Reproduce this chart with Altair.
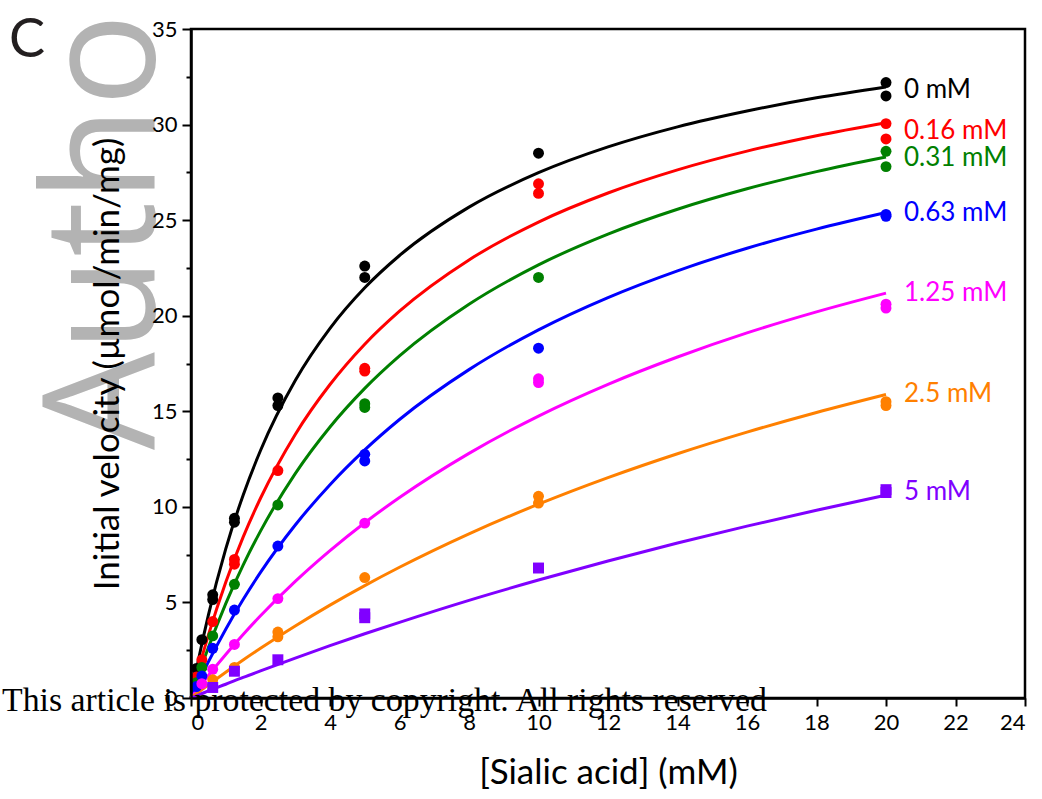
import altair as alt
import pandas as pd

# ---------------- data ----------------
series = ["0 mM", "0.16 mM", "0.31 mM", "0.63 mM", "1.25 mM", "2.5 mM", "5 mM"]
colors = ["#000000", "#ff0000", "#008000", "#0000ff", "#ff00ff", "#ff8000", "#8000ff"]
shapes = ["circle", "circle", "circle", "circle", "circle", "circle", "square"]

# fitted curves
fit_x = [0, 0.25, 0.5, 1, 1.5, 2, 3, 4, 5, 6, 8, 10, 12, 14, 16, 18, 20]
fit_0 = [0, 2.30, 4.34, 7.80, 10.61, 12.95, 16.61, 19.34, 21.46, 23.15, 25.68, 27.48, 28.83, 29.88, 30.71, 31.40, 31.97]
fit_016 = [0, 1.72, 3.29, 6.06, 8.42, 10.45, 13.79, 16.40, 18.51, 20.24, 22.92, 24.90, 26.42, 27.63, 28.61, 29.42, 30.10]
fit_031 = [0, 1.37, 2.64, 4.94, 6.95, 8.73, 11.74, 14.18, 16.20, 17.90, 20.60, 22.66, 24.27, 25.57, 26.64, 27.54, 28.30]
fit_063 = [0, 0.97, 1.89, 3.60, 5.15, 6.57, 9.05, 11.16, 12.98, 14.57, 17.18, 19.26, 20.95, 22.35, 23.53, 24.53, 25.40]
fit_125 = [0, 0.60, 1.18, 2.28, 3.32, 4.30, 6.10, 7.71, 9.17, 10.49, 12.80, 14.75, 16.41, 17.84, 19.10, 20.20, 21.18]
fit_25 = [0, 0.35, 0.69, 1.35, 1.99, 2.60, 3.77, 4.86, 5.88, 6.84, 8.59, 10.14, 11.53, 12.78, 13.91, 14.94, 15.88]
fit_5 = [0, 0.18, 0.37, 0.72, 1.08, 1.42, 2.09, 2.74, 3.36, 3.96, 5.11, 6.17, 7.17, 8.11, 8.99, 9.82, 10.61]
fits = [fit_0, fit_016, fit_031, fit_063, fit_125, fit_25, fit_5]

# measured points
px_0 = [0.156, 0.3125, 0.625, 0.625, 1.25, 1.25, 2.5, 2.5, 5, 5, 10, 20, 20]
py_0 = [1.55, 3.05, 5.4, 5.15, 9.4, 9.2, 15.7, 15.3, 22.6, 22.0, 28.5, 32.2, 31.5]
px_016 = [0.156, 0.3125, 0.625, 1.25, 1.25, 2.5, 5, 5, 10, 10, 20, 20]
py_016 = [1.1, 2.0, 4.0, 7.25, 7.0, 11.9, 17.25, 17.1, 26.9, 26.4, 30.05, 29.25]
px_031 = [0.156, 0.3125, 0.625, 1.25, 2.5, 5, 5, 10, 20, 20]
py_031 = [0.8, 1.6, 3.25, 5.95, 10.1, 15.4, 15.2, 22.0, 28.6, 27.8]
px_063 = [0.156, 0.3125, 0.625, 1.25, 2.5, 5, 5, 10, 20, 20]
py_063 = [0.6, 1.15, 2.6, 4.6, 7.95, 12.75, 12.4, 18.3, 25.3, 25.2]
px_125 = [0.3125, 0.625, 1.25, 2.5, 5, 10, 10, 20, 20]
py_125 = [0.75, 1.5, 2.8, 5.2, 9.15, 16.7, 16.5, 20.6, 20.4]
px_25 = [0.625, 1.25, 2.5, 2.5, 5, 10, 10, 20, 20]
py_25 = [0.95, 1.6, 3.45, 3.2, 6.3, 10.55, 10.2, 15.5, 15.3]
px_5 = [0.625, 1.25, 2.5, 5, 5, 10, 20, 20]
py_5 = [0.55, 1.4, 2.0, 4.4, 4.2, 6.8, 10.9, 10.75]
pxs = [px_0, px_016, px_031, px_063, px_125, px_25, px_5]
pys = [py_0, py_016, py_031, py_063, py_125, py_25, py_5]

x_ticks = list(range(0, 25))
y_ticks = [i * 2.5 for i in range(15)]

# ---------------- tables ----------------
fit_rows = []
for s, f in zip(series, fits):
    for xv, yv in zip(fit_x, f):
        fit_rows.append({"series": s, "x": xv, "y": yv})
fit_df = pd.DataFrame(fit_rows)

pt_rows = []
for s, xs, ys in zip(series, pxs, pys):
    for xv, yv in zip(xs, ys):
        pt_rows.append({"series": s, "x": xv, "y": yv})
pt_df = pd.DataFrame(pt_rows)

label_df = pd.DataFrame({"series": series, "x": [fit_x[-1]] * len(series),
                         "y": [f[-1] for f in fits]})

FONT = "Lato"
xscale = alt.Scale(domain=[0, 24], nice=False, zero=False)
yscale = alt.Scale(domain=[0, 35], nice=False, zero=False)
cscale = alt.Scale(domain=series, range=colors)
sscale = alt.Scale(domain=series, range=shapes)

x_axis = alt.Axis(
    values=x_ticks,
    labelExpr="datum.value % 2 === 0 ? datum.label : ''",
    tickSize={"condition": {"test": "datum.value % 2 === 0", "value": 8}, "value": 5},
    title="[Sialic acid] (mM)",
    titlePadding=22,
    labelPadding=6,
    grid=False,
    zindex=1,
)
y_axis = alt.Axis(
    values=y_ticks,
    labelExpr="datum.value % 5 === 0 ? datum.label : ''",
    tickSize={"condition": {"test": "datum.value % 5 === 0", "value": 9}, "value": 5},
    title="Initial velocity (µmol/min/mg)",
    titlePadding=26,
    labelPadding=5,
    grid=False,
    zindex=1,
)

base_x = alt.X("x:Q", scale=xscale, axis=x_axis)
base_y = alt.Y("y:Q", scale=yscale, axis=y_axis)

# watermark behind everything
wm = alt.Chart(pd.DataFrame({"t": ["Autho"]})).mark_text(
    font="Open Sans", fontSize=155, color="#b3b3b3", angle=270,
    align="left", baseline="alphabetic"
).encode(x=alt.value(-37), y=alt.value(421), text="t:N")

lines = alt.Chart(fit_df).mark_line(strokeWidth=3, interpolate="monotone").encode(
    x=base_x, y=base_y,
    color=alt.Color("series:N", scale=cscale, legend=None),
    detail="series:N",
)

points = alt.Chart(pt_df).mark_point(filled=True, size=120, opacity=1).encode(
    x="x:Q", y="y:Q",
    color=alt.Color("series:N", scale=cscale, legend=None),
    shape=alt.Shape("series:N", scale=sscale, legend=None),
)

label_dy = [3, 8, 1, 1, 0, 0, -3]
labels = []
for s, c, d in zip(series, colors, label_dy):
    labels.append(
        alt.Chart(label_df[label_df["series"] == s]).mark_text(
            font=FONT, fontSize=26, color=c, align="left", baseline="middle",
            dx=18, dy=d
        ).encode(x="x:Q", y="y:Q", text="series:N")
    )

letter = alt.Chart(pd.DataFrame({"t": ["C"]})).mark_text(
    font=FONT, fontSize=54, color="#231f20", align="left", baseline="alphabetic"
).encode(x=alt.value(-182), y=alt.value(28), text="t:N")

copyright_txt = alt.Chart(pd.DataFrame({"t": ["This article is protected by copyright. All rights reserved"]})).mark_text(
    font="Liberation Serif", fontSize=33.8, color="#000000", align="left", baseline="alphabetic"
).encode(x=alt.value(-189), y=alt.value(682), text="t:N")

chart = alt.layer(wm, lines, points, *labels, letter, copyright_txt).properties(
    width=834, height=669,
    autosize=alt.AutoSizeParams(type="none"),
    padding={"left": 191, "top": 29, "right": 17, "bottom": 101},
).configure_view(
    stroke="#000000", strokeWidth=2.5
).configure_axis(
    domainColor="#000000", domainWidth=2.5,
    tickColor="#000000", tickWidth=2,
    labelFont=FONT, labelFontSize=22, labelColor="#000000",
    titleFont=FONT, titleFontSize=35, titleFontWeight="normal", titleColor="#000000",
    grid=False,
)

chart.save("out.html", embed_options={"renderer": "svg", "actions": False})
